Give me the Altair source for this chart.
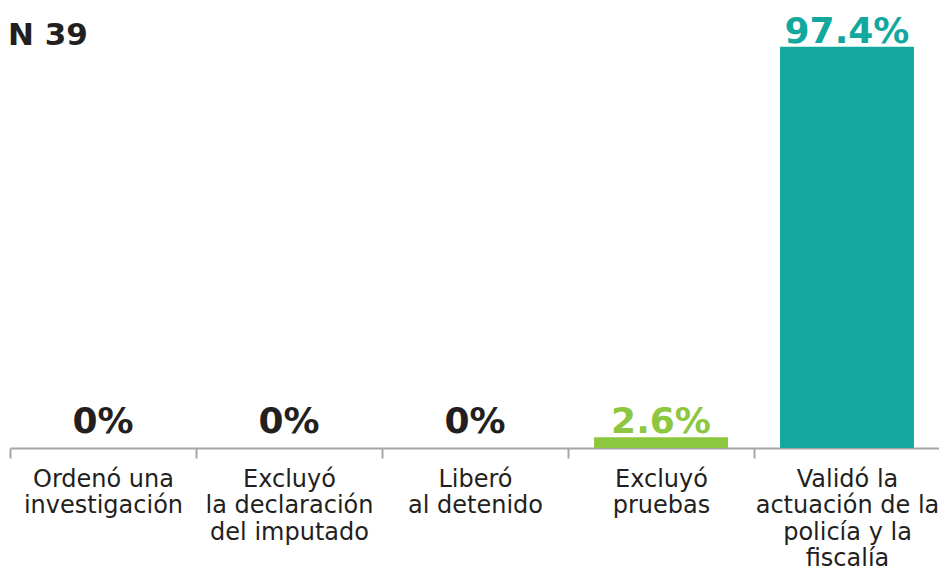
import altair as alt
import pandas as pd

categories = [
    "Ordenó una\ninvestigación",
    "Excluyó\nla declaración\ndel imputado",
    "Liberó\nal detenido",
    "Excluyó\npruebas",
    "Validó la\nactuación de la\npolicía y la\nfiscalía",
]
values = [0, 0, 0, 2.6, 97.4]
labels = ["0%", "0%", "0%", "2.6%", "97.4%"]
colors = ["#231f20", "#231f20", "#231f20", "#8dc63f", "#13a89e"]
note = "N 39"

df = pd.DataFrame({"cat": categories, "value": values, "label": labels})

xenc = alt.X(
    "cat:N",
    sort=categories,
    title=None,
    scale=alt.Scale(paddingInner=0, paddingOuter=0),
    axis=alt.Axis(
        labelAngle=0,
        labelExpr="split(datum.label, '\\n')",
        labelFont="DejaVu Sans",
        labelFontSize=24,
        labelLineHeight=26.5,
        labelColor="#231f20",
        labelPadding=9,
        labelLimit=400,
        labelOverlap=False,
        labelBound=False,
        tickBand="extent",
        tickSize=10,
        tickColor="#a6a6a6",
        tickWidth=2,
        domainColor="#a6a6a6",
        domainWidth=2,
        grid=False,
    ),
)
yscale = alt.Scale(domain=[0, 100])
color = alt.Color("cat:N", scale=alt.Scale(domain=categories, range=colors), legend=None)

bars = alt.Chart(df).mark_bar(width={"band": 0.72}).encode(
    x=xenc,
    y=alt.Y("value:Q", scale=yscale, axis=None),
    color=color,
)

text = alt.Chart(df).transform_calculate(
    lp="max(datum.value, 2.6)"
).mark_text(
    font="DejaVu Sans", fontWeight="bold", fontSize=36, baseline="alphabetic", dy=-4
).encode(
    x=alt.X("cat:N", sort=categories),
    y=alt.Y("lp:Q", scale=yscale, axis=None),
    text="label:N",
    color=color,
)

ntext = alt.Chart(pd.DataFrame({"t": [note]})).mark_text(
    font="DejaVu Sans", fontWeight="bold", fontSize=31, align="left",
    baseline="alphabetic", color="#231f20"
).encode(x=alt.value(-2), y=alt.value(9), text="t:N")

chart = alt.layer(bars, text, ntext).properties(
    width=930,
    height=412,
    autosize=alt.AutoSizeParams(type="none"),
    padding={"left": 2, "top": 28, "right": -1, "bottom": 124},
).configure_view(stroke=None)

chart.save("out.html", embed_options={"renderer": "svg", "actions": False})
